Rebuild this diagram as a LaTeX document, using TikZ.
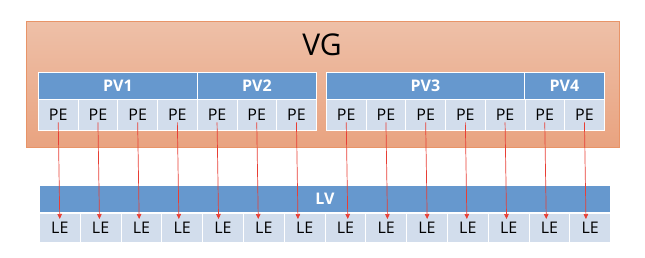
\documentclass[tikz,border=0pt]{standalone}
\usepackage{fontspec}
\setmainfont{Open Sans}
\usetikzlibrary{arrows.meta, calc}

\definecolor{vgtop}{RGB}{238,192,168}
\definecolor{vgbot}{RGB}{233,163,128}
\definecolor{vgline}{RGB}{232,148,104}
\definecolor{pvblue}{RGB}{102,152,206}
\definecolor{cellbg}{RGB}{210,221,236}
\definecolor{maparrow}{RGB}{232,62,52}

\begin{document}
\begin{tikzpicture}[
  x=1pt, y=-1pt,
  font=\fontsize{16}{16}\selectfont,
  bar/.style={draw=white, line width=0.8pt, fill=pvblue, text=white,
              font=\fontsize{16}{16}\selectfont\bfseries,
              minimum height=27pt, inner sep=0pt, anchor=north west},
  cell/.style={draw=white, line width=0.8pt, fill=cellbg,
               minimum height=31pt, inner sep=0pt, anchor=north west},
  pecell/.style={cell, minimum width=39.7pt},
  lecell/.style={cell, minimum width=40.8pt, minimum height=29pt},
  map/.style={-{Triangle[length=5pt, width=4.5pt]}, maparrow, line width=0.7pt},
]
\useasboundingbox (0,0) rectangle (645,257);

% Volume group
\draw[vgline, line width=0.8pt, top color=vgtop, bottom color=vgbot]
  (26,21) rectangle (619,147);
\node (vg) at (322,45) {\fontsize{30}{30}\selectfont VG};

% Physical volumes
\node[bar, minimum width=159pt] (pv1) at (38,72)  {PV1};
\node[bar, minimum width=119pt] (pv2) at (197,72) {PV2};
\node[bar, minimum width=198pt] (pv3) at (326,72) {PV3};
\node[bar, minimum width=80pt]  (pv4) at (524,72) {PV4};

% Physical extents
\foreach \i in {1,...,7}
  \node[pecell] (pe\i) at ({38+(\i-1)*39.7},99) {PE};
\foreach \i in {8,...,14}
  \node[pecell] (pe\i) at ({326+(\i-8)*39.7},99) {PE};

% Logical volume and its extents
\node[bar, minimum width=571pt] (lv) at (39,185) {LV};
\foreach \i in {1,...,14}
  \node[lecell] (le\i) at ({39+(\i-1)*40.8},213) {LE};

% PE -> LE mapping, almost straight down
\foreach \i in {1,...,14}
  \draw[map] ($(pe\i.center)+(0,7.5)$) -- ($(pe\i.center |- le\i.north)+(1.5,6)$);

\end{tikzpicture}
\end{document}
